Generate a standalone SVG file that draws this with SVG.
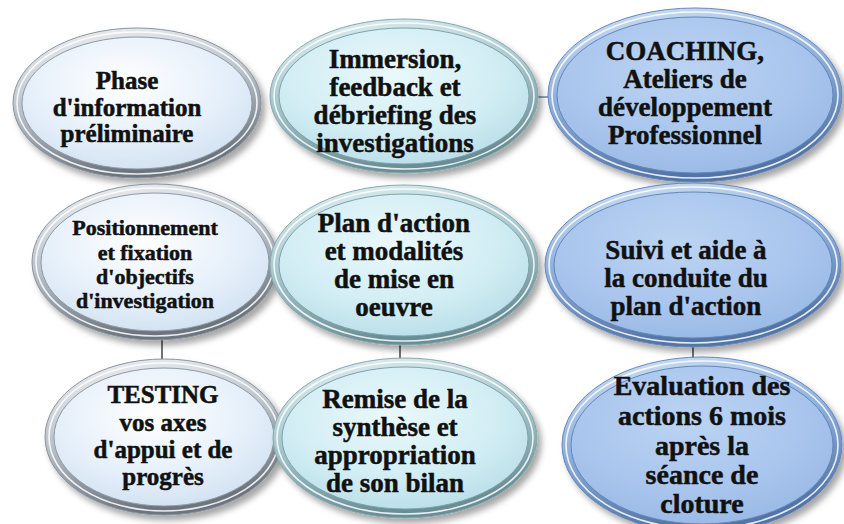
<svg xmlns="http://www.w3.org/2000/svg" width="844" height="524" viewBox="0 0 844 524">
<defs>
<filter id="sh" x="-10%" y="-10%" width="125%" height="130%">
<feDropShadow dx="4" dy="5" stdDeviation="3" flood-color="#000" flood-opacity="0.35"/>
</filter>
<linearGradient id="rim1" x1="0" y1="0" x2="0.3" y2="1">
<stop offset="0" stop-color="#f2f4f7"/><stop offset="0.5" stop-color="#bcc4cc"/><stop offset="1" stop-color="#6c747e"/>
</linearGradient>
<linearGradient id="rim2" x1="0" y1="0" x2="0.3" y2="1">
<stop offset="0" stop-color="#e4f2f4"/><stop offset="0.5" stop-color="#a8c8ce"/><stop offset="1" stop-color="#6a8e96"/>
</linearGradient>
<linearGradient id="rim3" x1="0" y1="0" x2="0.3" y2="1">
<stop offset="0" stop-color="#d4e4f6"/><stop offset="0.5" stop-color="#8eb0dc"/><stop offset="1" stop-color="#5274a6"/>
</linearGradient>
<radialGradient id="fill1" cx="0.45" cy="0.35" r="0.7">
<stop offset="0" stop-color="#ffffff"/><stop offset="0.6" stop-color="#e6f0fa"/><stop offset="1" stop-color="#d0e0f1"/>
</radialGradient>
<radialGradient id="fill2" cx="0.45" cy="0.35" r="0.7">
<stop offset="0" stop-color="#eaf8fb"/><stop offset="0.6" stop-color="#d2eef4"/><stop offset="1" stop-color="#b8dde8"/>
</radialGradient>
<radialGradient id="fill3" cx="0.45" cy="0.35" r="0.7">
<stop offset="0" stop-color="#bcd4f2"/><stop offset="0.6" stop-color="#aac6ee"/><stop offset="1" stop-color="#98b8e4"/>
</radialGradient>
</defs>
<style>
.hl{fill:none;stroke:#ffffff;stroke-width:1.6;opacity:0.85}
.in1{fill:url(#fill1);stroke:#8f99a4;stroke-width:1}
.in2{fill:url(#fill2);stroke:#7fa2aa;stroke-width:1}
.in3{fill:url(#fill3);stroke:#6486b8;stroke-width:1}
.r1{fill:url(#rim1);stroke:#8a939d;stroke-width:1}
.r2{fill:url(#rim2);stroke:#86a8ae;stroke-width:1}
.r3{fill:url(#rim3);stroke:#6688bc;stroke-width:1}
text{font-family:"Liberation Serif","Times New Roman",serif;font-weight:bold;fill:#111;stroke:#111;stroke-width:0.5;text-anchor:middle}
.c{stroke:#444;stroke-width:1.5}
.ch{stroke:#8fa8b4;stroke-width:2}
</style>
<rect width="844" height="524" fill="#ffffff"/>
<g id="connectors">
<line class="c" x1="162" y1="338" x2="162" y2="360"/>
<line class="c" x1="400" y1="342" x2="400" y2="360"/>
<line class="c" x1="693" y1="344" x2="693" y2="360"/>
<line class="ch" x1="535" y1="97" x2="550" y2="97"/>
</g>
<g id="n1">
<ellipse class="r1" cx="137" cy="103" rx="124" ry="75" filter="url(#sh)"/>
<ellipse class="hl" cx="137" cy="103" rx="120" ry="71"/>
<ellipse class="in1" cx="137" cy="103" rx="115" ry="66"/>
<text font-size="25"><tspan x="127" y="89">Phase</tspan><tspan x="127" y="116">d'information</tspan><tspan x="127" y="142">préliminaire</tspan></text>
</g>
<g id="n2">
<ellipse class="r2" cx="404" cy="96" rx="134" ry="77" filter="url(#sh)"/>
<ellipse class="hl" cx="404" cy="96" rx="130" ry="73"/>
<ellipse class="in2" cx="404" cy="96" rx="125" ry="68"/>
<text font-size="27"><tspan x="395" y="68">Immersion,</tspan><tspan x="395" y="96">feedback et</tspan><tspan x="395" y="124">débriefing des</tspan><tspan x="395" y="152">investigations</tspan></text>
</g>
<g id="n3">
<ellipse class="r3" cx="695" cy="95" rx="147" ry="87" filter="url(#sh)"/>
<ellipse class="hl" cx="695" cy="95" rx="143" ry="83"/>
<ellipse class="in3" cx="695" cy="95" rx="138" ry="78"/>
<text font-size="27"><tspan x="685" y="60">COACHING,</tspan><tspan x="685" y="88">Ateliers de</tspan><tspan x="685" y="116">développement</tspan><tspan x="685" y="144">Professionnel</tspan></text>
</g>
<g id="n4">
<ellipse class="r1" cx="155" cy="262" rx="123" ry="78" filter="url(#sh)"/>
<ellipse class="hl" cx="155" cy="262" rx="119" ry="74"/>
<ellipse class="in1" cx="155" cy="262" rx="114" ry="69"/>
<text font-size="22"><tspan x="145" y="235">Positionnement</tspan><tspan x="145" y="260">et fixation</tspan><tspan x="145" y="284">d'objectifs</tspan><tspan x="145" y="308">d'investigation</tspan></text>
</g>
<g id="n5">
<ellipse class="r2" cx="404" cy="265" rx="134" ry="80" filter="url(#sh)"/>
<ellipse class="hl" cx="404" cy="265" rx="130" ry="76"/>
<ellipse class="in2" cx="404" cy="265" rx="125" ry="71"/>
<text font-size="27"><tspan x="394" y="232">Plan d'action</tspan><tspan x="394" y="260">et modalités</tspan><tspan x="394" y="288">de mise en</tspan><tspan x="394" y="316">oeuvre</tspan></text>
</g>
<g id="n6">
<ellipse class="r3" cx="693" cy="265" rx="148" ry="82" filter="url(#sh)"/>
<ellipse class="hl" cx="693" cy="265" rx="144" ry="78"/>
<ellipse class="in3" cx="693" cy="265" rx="139" ry="73"/>
<text font-size="27"><tspan x="686" y="259">Suivi et aide à</tspan><tspan x="686" y="287">la conduite du</tspan><tspan x="686" y="315">plan d'action</tspan></text>
</g>
<g id="n7">
<ellipse class="r1" cx="164" cy="437" rx="119" ry="78" filter="url(#sh)"/>
<ellipse class="hl" cx="164" cy="437" rx="115" ry="74"/>
<ellipse class="in1" cx="164" cy="437" rx="110" ry="69"/>
<text font-size="25"><tspan x="163" y="403">TESTING</tspan><tspan x="163" y="431">vos axes</tspan><tspan x="163" y="458">d'appui et de</tspan><tspan x="163" y="485">progrès</tspan></text>
</g>
<g id="n8">
<ellipse class="r2" cx="405" cy="438" rx="132" ry="80" filter="url(#sh)"/>
<ellipse class="hl" cx="405" cy="438" rx="128" ry="76"/>
<ellipse class="in2" cx="405" cy="438" rx="123" ry="71"/>
<text font-size="27"><tspan x="395" y="408">Remise de la</tspan><tspan x="395" y="436">synthèse et</tspan><tspan x="395" y="464">appropriation</tspan><tspan x="395" y="492">de son bilan</tspan></text>
</g>
<g id="n9">
<ellipse class="r3" cx="702" cy="445" rx="140" ry="88" filter="url(#sh)"/>
<ellipse class="hl" cx="702" cy="445" rx="136" ry="84"/>
<ellipse class="in3" cx="702" cy="445" rx="131" ry="79"/>
<text font-size="28"><tspan x="702" y="395">Evaluation des</tspan><tspan x="702" y="425">actions 6 mois</tspan><tspan x="702" y="455">après la</tspan><tspan x="702" y="484">séance de</tspan><tspan x="702" y="513">cloture</tspan></text>
</g>
</svg>
